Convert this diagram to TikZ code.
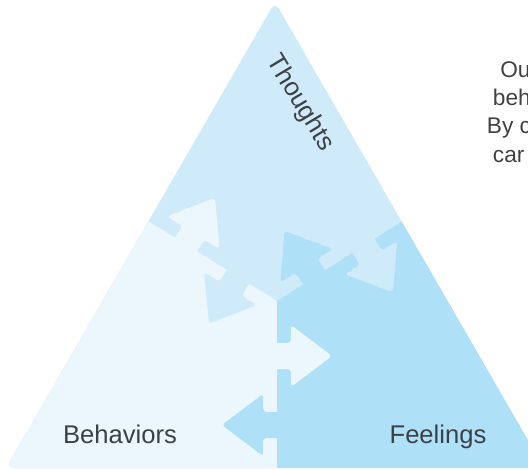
\documentclass[tikz,border=0pt]{standalone}
\usepackage{fontspec}
\setmainfont{Liberation Sans}
\usetikzlibrary{calc}

\definecolor{thoughtblue}{HTML}{CFEAF8}
\definecolor{behavblue}{HTML}{EBF7FC}
\definecolor{feelblue}{HTML}{AEE0F8}
\definecolor{labelgray}{HTML}{3C4146}
\definecolor{paragray}{HTML}{404040}

\tikzset{
  ctext/.style={text=labelgray, inner sep=0pt, font=\fontsize{19.2}{22}\selectfont},
  ptext/.style={text=paragray, inner sep=0pt, anchor=base west, font=\fontsize{17}{21}\selectfont},
  cbtarrow/.style={rounded corners=2.5pt}
}
\newcommand{\cbtarrow}[3]{%
  \fill[#1, cbtarrow, shift={(#2)}, rotate=#3]
    (-4,-13) -- (14,-13) -- (14,-31) -- (55,0) -- (14,31) -- (14,13) -- (-4,13) -- cycle;
}

\begin{document}
\begin{tikzpicture}[x=0.75pt, y=-0.75pt]
   \useasboundingbox (0,0) rectangle (528,469);
   \coordinate (A) at (275,2);
   \coordinate (BL) at (6,468);
   \coordinate (BR) at (544,468);
   \coordinate (L) at (148,221);
   \coordinate (R) at (401,222);
   \coordinate (J) at (277,301);
   \coordinate (bt) at (186,244.6);
   \coordinate (tb) at (237.9,276.8);
   \coordinate (ft) at (314.1,277.4);
   \coordinate (tf) at (363.5,245.9);
   \coordinate (bf) at (277,356);
   \coordinate (fb) at (277,425);
   \begin{scope}
    \clip[rounded corners=6pt] (A) -- (BL) -- (BR) -- cycle;
    \fill[thoughtblue] (-10,-10) rectangle (560,480);
    \fill[behavblue] (J) -- ($(J)!1.3!(L)$) -- (-10,480) -- (277,480) -- cycle;
    \fill[feelblue] (J) -- ($(J)!1.3!(R)$) -- (560,480) -- (277,480) -- cycle;
    \cbtarrow{behavblue}{bt}{58.2}
    \cbtarrow{thoughtblue}{tb}{-121.8}
    \cbtarrow{feelblue}{ft}{122.5}
    \cbtarrow{thoughtblue}{tf}{-57.5}
    \cbtarrow{behavblue}{bf}{0}
    \cbtarrow{feelblue}{fb}{180}
   \end{scope}
   \node[ctext, rotate=-59] (thoughts) at (300,103) {Thoughts};
   \node[ctext, anchor=base] (behaviors) at (120,443) {Behaviors};
   \node[ctext, anchor=base] (feelings) at (438,443) {Feelings};
   \node[ptext] (p1) at (500,77) {Ou};
   \node[ptext] (p2) at (492.7,105) {beh};
   \node[ptext] (p3) at (486.7,133) {By c};
   \node[ptext] (p4) at (492.7,162) {car};
\end{tikzpicture}
\end{document}
